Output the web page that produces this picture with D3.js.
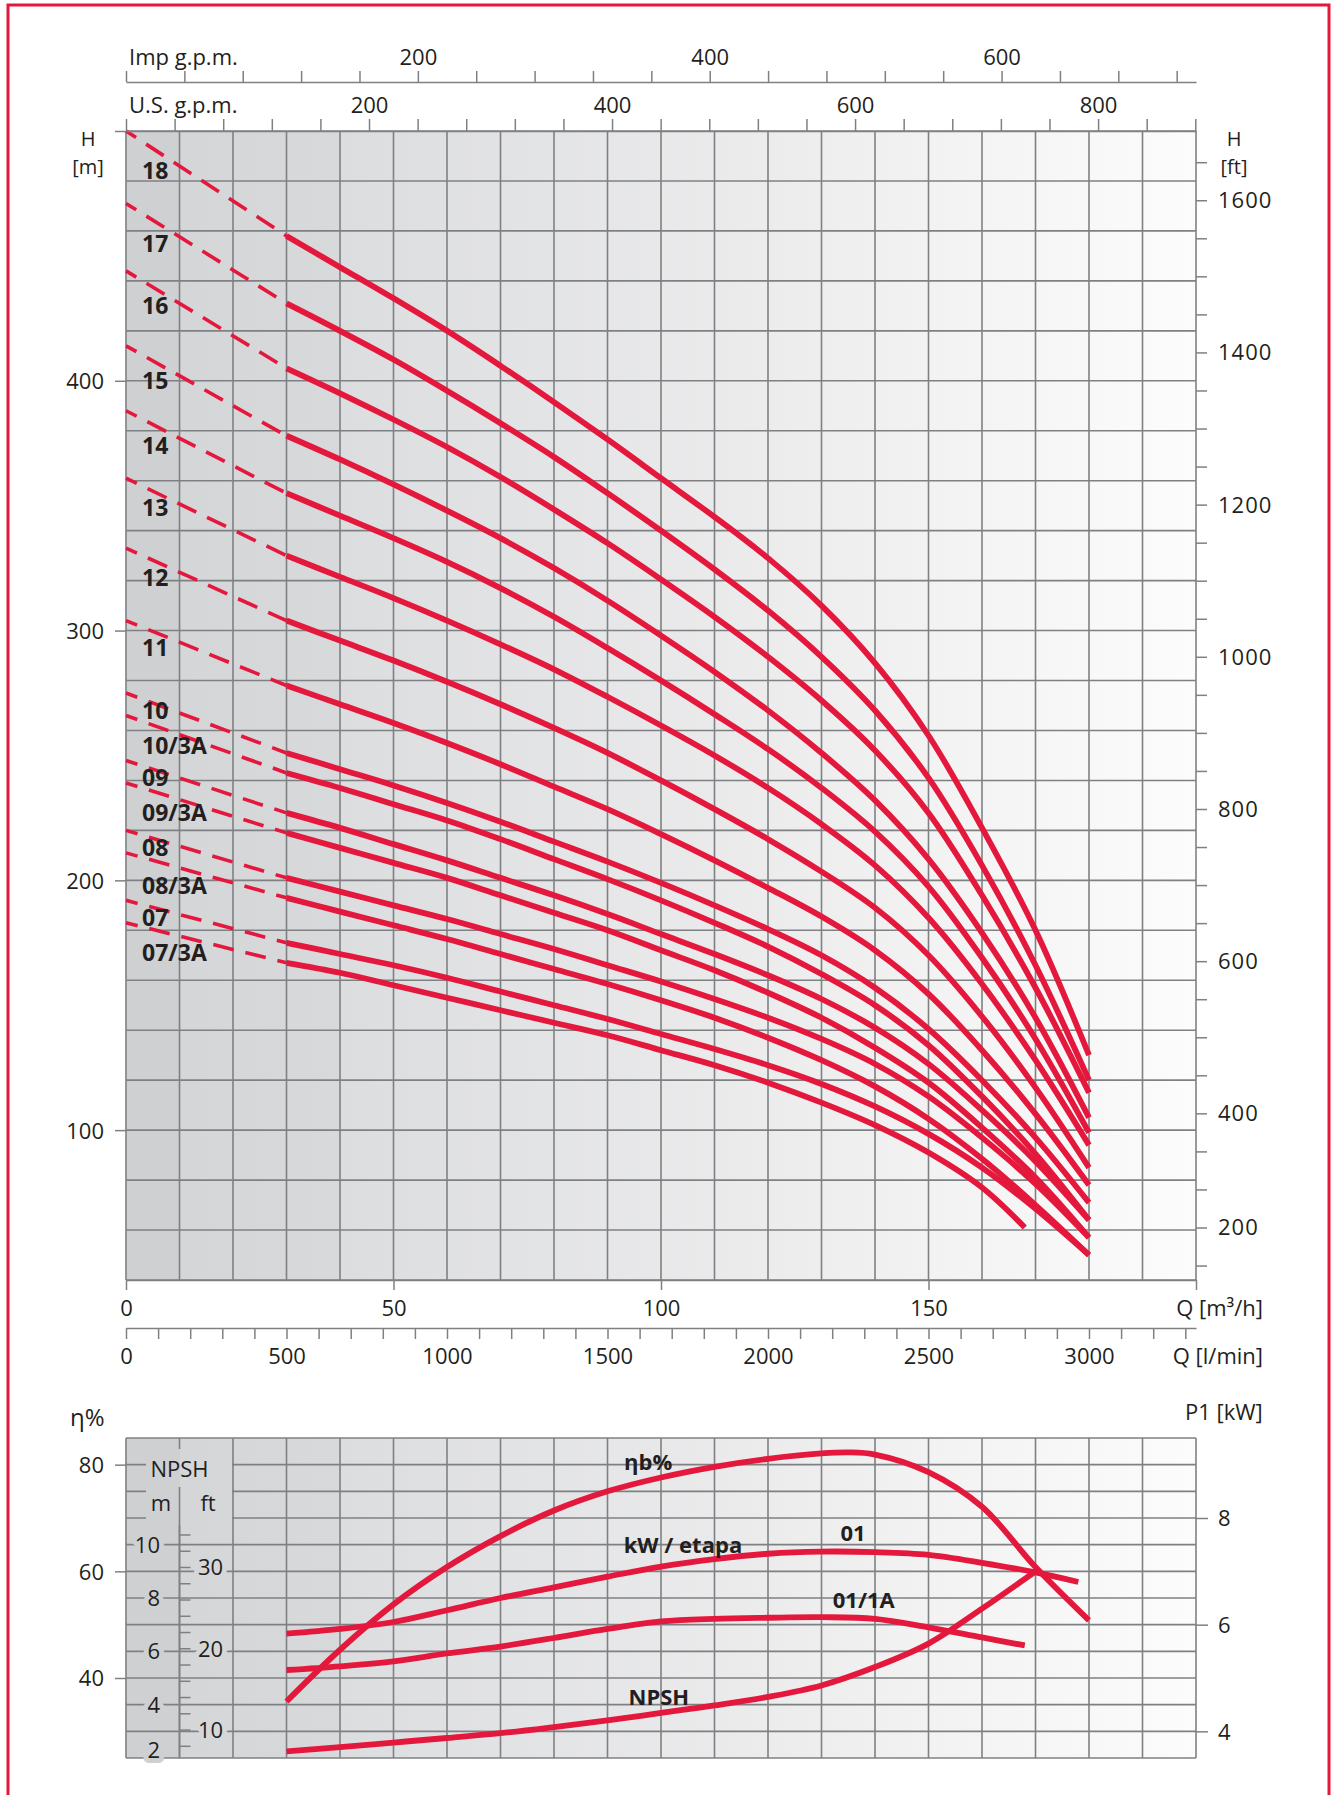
<!DOCTYPE html>
<html>
<head>
<meta charset="utf-8">
<script src="https://cdn.jsdelivr.net/npm/d3@7"></script>
<style>
  html, body { margin: 0; padding: 0; background: #fff; }
  svg { display: block; }
</style>
</head>
<body>
<svg id="chart" width="1332" height="1795"></svg>
<script>
// Pump performance chart: H-Q curves per number of stages, plus efficiency / power / NPSH panel.

const FONT = '"Open Sans", "DejaVu Sans", sans-serif';
const RED = '#e4183c';
const GRID = '#7f8083';
const INK = '#231f20';

// ---- data ----
const stageNames = ['18', '17', '16', '15', '14', '13', '12', '11', '10', '10/3A', '09', '09/3A', '08', '08/3A', '07', '07/3A'];
// head at Q = 0 (start of the dashed part), m
const headAtZero = [500, 471, 444, 414, 388, 361, 333, 304, 275, 266, 248, 239, 220, 211, 192, 183];
// head where the stage label sits (Q about 3 m3/h), m
const labelHead = [484, 455, 430, 400, 374, 349, 321, 293, 268, 254, 241, 227, 213, 198, 185, 171];

const qFlow = [30, 40, 50, 60, 70, 80, 90, 100, 110, 120, 130, 140, 150, 160, 170, 180];
const qFlowShort = [30, 40, 50, 60, 70, 80, 90, 100, 110, 120, 130, 140, 150, 160, 168];

const headCurves = [
  [458, 445.5, 433, 420, 406, 391.5, 376.5, 361, 345.5, 329, 310, 287, 258, 221, 180, 130], // 18
  [431, 420, 408.5, 396, 383, 369.5, 355, 340, 324.5, 308, 289.5, 268, 241, 206, 166, 120], // 17
  [405, 395, 384.5, 373.5, 361.5, 348.5, 335, 320.5, 305.5, 289.5, 272, 252, 227, 194, 157, 115], // 16
  [378, 368.5, 358.5, 348, 337, 325, 312, 298, 283.5, 268, 251, 232, 208.5, 179, 145, 105], // 15
  [355, 346, 337, 327.5, 317, 305.5, 293, 280, 266.5, 252.5, 237, 219.5, 197.5, 169, 136.5, 99], // 14
  [330, 321.5, 313, 304, 294.5, 284.5, 273.5, 262, 250, 237, 222.5, 206, 185, 158.5, 128, 94], // 13
  [304, 296, 288, 279.5, 270.5, 261, 251, 240, 228.5, 216.5, 203.5, 189, 170, 145.5, 117, 85], // 12
  [278, 270.5, 263, 255, 246.5, 237.5, 228.5, 218.5, 208, 197, 185.5, 172, 154.5, 132, 106.5, 78], // 11
  [251, 244.5, 238, 231, 223.5, 215.5, 207.5, 199, 190, 180.5, 170, 157, 140.5, 120, 97, 71], // 10
  [243, 237, 230.5, 224, 216.5, 208.5, 200.5, 192, 183, 173.5, 162.5, 150, 134, 113.5, 90.5, 64], // 10/3A
  [227, 221, 214.5, 208, 201, 194, 186.5, 178.5, 170.5, 162, 152.5, 141, 126.5, 108, 87.5, 64], // 09
  [219, 213, 207, 201, 194, 187, 180, 172, 164, 155, 145, 133, 119, 101, 81, 57], // 09/3A
  [201, 195.5, 190, 184.5, 178.5, 172.5, 166, 159.5, 152.5, 145, 136.5, 126.5, 113.5, 97, 78.5, 57], // 08
  [193, 187.5, 182, 176.5, 170.5, 164.5, 158.5, 152, 145, 137, 128, 117.5, 104.5, 88.5, 70, 50], // 08/3A
  [175, 170.5, 166, 161, 155.5, 150, 144.5, 138.5, 132.5, 126, 118.5, 109.5, 98.5, 85, 68.5, 50], // 07
  [167, 163, 158, 153, 148, 143, 138, 132, 126, 119, 111, 102, 91, 77, 61] // 07/3A
];

// lower panel
const effFlow = [30, 40, 50, 60, 70, 80, 90, 100, 110, 120, 130, 135, 140, 150, 160, 170, 180];
const effValues = [35.6, 45.3, 53.8, 60.8, 66.6, 71.4, 75.0, 77.6, 79.6, 81.1, 82.1, 82.3, 81.9, 78.6, 72.1, 60.8, 50.8];

const kw01Flow = [30, 40, 50, 60, 70, 80, 90, 100, 110, 120, 130, 140, 150, 160, 170, 178];
const kw01Values = [5.83, 5.92, 6.05, 6.27, 6.5, 6.7, 6.9, 7.09, 7.23, 7.33, 7.37, 7.36, 7.31, 7.16, 6.98, 6.8];

const kw1AFlow = [30, 40, 50, 60, 70, 80, 90, 100, 110, 120, 130, 140, 150, 160, 168];
const kw1AValues = [5.15, 5.22, 5.31, 5.46, 5.59, 5.75, 5.92, 6.06, 6.11, 6.13, 6.14, 6.11, 5.95, 5.76, 5.61];

const npshFlow = [30, 40, 50, 60, 70, 80, 90, 100, 110, 120, 130, 140, 150, 160, 170];
const npshValues = [2.25, 2.41, 2.58, 2.75, 2.93, 3.16, 3.41, 3.69, 3.97, 4.29, 4.72, 5.41, 6.29, 7.6, 9.0];

// axis labels on the ft side as printed (the last one sits one step high)
const ftLabels = ['1600', '1400', '1200', '1000', '800', '600', '400', '200'];
const ftLabelAt = [1600, 1400, 1200, 1000, 800, 600, 400, 250];

// ---- layout ----
const X0 = 126, X1 = 1196;
const Y0 = 131, Y1 = 1280;
const LY0 = 1438, LY1 = 1758;

const x = d3.scaleLinear().domain([0, 200]).range([X0, X1]);
const yH = d3.scaleLinear().domain([40, 500]).range([Y1, Y0]);
const yFt = d3.scaleLinear().domain([181, 1691]).range([Y1, Y0]);
const usGpm = d3.scaleLinear().domain([0, 200 * 4.4029]).range([X0, X1]);
const impGpm = d3.scaleLinear().domain([0, 200 * 3.6662]).range([X0, X1]);
const lMin = d3.scaleLinear().domain([0, 200 * 1000 / 60]).range([X0, X1]);

const yEta = d3.scaleLinear().domain([25, 85]).range([LY1, LY0]);
const yP = d3.scaleLinear().domain([3.5, 9.5]).range([LY1, LY0]);
const yNm = d3.scaleLinear().domain([2, 14]).range([LY1, LY0]);
const yNft = v => yNm(v * 0.3048);

const svg = d3.select('#chart').attr('font-family', FONT);

// background gradient
const grad = svg.append('defs').append('linearGradient')
  .attr('id', 'bg').attr('gradientUnits', 'userSpaceOnUse')
  .attr('x1', X0).attr('x2', X1).attr('y1', 0).attr('y2', 0);
[[0, '#cfd0d2'], [0.05, '#cfd0d2'], [0.05, '#d5d6d8'], [0.2, '#d8d9db'],
 [0.2, '#dcdddf'], [0.6, '#ececed'], [1, '#fcfcfc']]
  .forEach(([o, c]) => grad.append('stop').attr('offset', o).attr('stop-color', c));

// red frame
svg.append('rect').attr('x', 8).attr('y', 5).attr('width', 1321).attr('height', 1830)
  .attr('fill', 'none').attr('stroke', RED).attr('stroke-width', 3);

function panel(top, bottom, hLines) {
  const g = svg.append('g');
  g.append('rect').attr('x', X0).attr('y', top).attr('width', X1 - X0).attr('height', bottom - top)
    .attr('fill', 'url(#bg)');
  g.selectAll('line.v').data(d3.range(0, 201, 10)).join('line')
    .attr('x1', d => x(d)).attr('x2', d => x(d)).attr('y1', top).attr('y2', bottom)
    .attr('stroke', GRID).attr('stroke-width', 1.6);
  g.selectAll('line.h').data(hLines).join('line')
    .attr('x1', X0).attr('x2', X1).attr('y1', d => d).attr('y2', d => d)
    .attr('stroke', GRID).attr('stroke-width', 1.6);
  return g;
}

function styleAxis(g, size) {
  g.attr('font-family', FONT).attr('font-size', size);
  g.selectAll('line').attr('stroke', GRID).attr('stroke-width', 1.5);
  g.select('.domain').attr('stroke', GRID).attr('stroke-width', 1.5);
  g.selectAll('text').attr('fill', INK);
}

function label(txt, px, py, opts = {}) {
  return svg.append('text').attr('x', px).attr('y', py)
    .attr('font-size', opts.size || 22)
    .attr('font-weight', opts.bold ? 700 : 400)
    .attr('text-anchor', opts.anchor || 'start')
    .attr('fill', INK)
    .attr('letter-spacing', opts.ls || 0)
    .text(txt);
}

// ---- main H-Q panel ----
panel(Y0, Y1, d3.range(40, 501, 20).map(yH));

const curveLine = d3.line().x(d => x(d[0])).y(d => yH(d[1])).curve(d3.curveCatmullRom.alpha(0.5));
const gc = svg.append('g');
stageNames.forEach((name, i) => {
  const flows = i === stageNames.length - 1 ? qFlowShort : qFlow;
  const pts = flows.map((q, j) => [q, headCurves[i][j]]);
  gc.append('path')
    .attr('d', curveLine([[0, headAtZero[i]], pts[0]]))
    .attr('fill', 'none').attr('stroke', RED).attr('stroke-width', 3.6)
    .attr('stroke-dasharray', '21,12').attr('stroke-dashoffset', 9);
  gc.append('path')
    .attr('d', curveLine(pts))
    .attr('fill', 'none').attr('stroke', RED).attr('stroke-width', 5.8);
  label(name, x(3), yH(labelHead[i]), { bold: true, size: 23 }).attr('dy', '0.36em');
});

// left H [m] axis
const axL = svg.append('g').attr('transform', `translate(${X0},0)`)
  .call(d3.axisLeft(yH).tickValues([100, 200, 300, 400, 500]).tickSize(11).tickPadding(11)
    .tickFormat(d => d === 500 ? '' : d));
axL.select('.domain').remove();
styleAxis(axL, 22);
axL.selectAll('text').attr('dy', '0.36em');

// right H [ft] axis
const axR = svg.append('g').attr('transform', `translate(${X1},0)`)
  .call(d3.axisRight(yFt).tickValues(d3.range(200, 1651, 50)).tickSize(11).tickFormat(''));
axR.select('.domain').remove();
styleAxis(axR, 22);
ftLabels.forEach((t, i) => label(t, X1 + 22, yFt(ftLabelAt[i]), { ls: 1 }).attr('dy', '0.36em'));

label('H', 88, 139, { anchor: 'middle', size: 20 }).attr('dy', '0.36em');
label('[m]', 88, 167, { anchor: 'middle', size: 20 }).attr('dy', '0.36em');
label('H', 1234, 139, { anchor: 'middle', size: 20 }).attr('dy', '0.36em');
label('[ft]', 1234, 167, { anchor: 'middle', size: 20 }).attr('dy', '0.36em');

// top axes
const axImp = svg.append('g').attr('transform', 'translate(0,82)')
  .call(d3.axisTop(impGpm).tickValues(d3.range(0, 721, 40)).tickSize(11).tickSizeOuter(0).tickPadding(6)
    .tickFormat(d => d > 0 && d % 200 === 0 ? d : ''));
styleAxis(axImp, 22);
label('Imp g.p.m.', 129, 65);

const axUs = svg.append('g').attr('transform', `translate(0,${Y0})`)
  .call(d3.axisTop(usGpm).tickValues(d3.range(0, 881, 40)).tickSize(12).tickSizeOuter(0).tickPadding(6)
    .tickFormat(d => d > 0 && d % 200 === 0 ? d : ''));
styleAxis(axUs, 22);
label('U.S. g.p.m.', 129, 113);

// bottom axes
const axQ = svg.append('g').attr('transform', `translate(0,${Y1})`)
  .call(d3.axisBottom(x).tickValues([0, 50, 100, 150, 200]).tickSize(10).tickSizeOuter(0).tickPadding(10)
    .tickFormat(d => d < 200 ? d : ''));
styleAxis(axQ, 22);
label('Q [m³/h]', 1263, 1316, { anchor: 'end' });

const axL2 = svg.append('g').attr('transform', 'translate(0,1328)')
  .call(d3.axisBottom(lMin).tickValues(d3.range(0, 3301, 100)).tickSize(11).tickSizeOuter(0).tickPadding(9)
    .tickFormat(d => d % 500 === 0 ? d : ''));
styleAxis(axL2, 22);
label('Q [l/min]', 1263, 1364, { anchor: 'end' });

// ---- lower panel: efficiency, power, NPSH ----
panel(LY0, LY1, d3.range(25, 86, 5).map(yEta));

// NPSH scale inside the left columns: clear the header area, redraw the ft axis line
function halo(sel) {
  return sel.attr('stroke', 'url(#bg)').attr('stroke-width', 10).attr('paint-order', 'stroke')
    .attr('stroke-linejoin', 'round');
}
const gn = svg.append('g');
gn.append('rect').attr('x', X0 + 20).attr('y', LY0 + 11).attr('width', x(20) - X0 - 21).attr('height', 76)
  .attr('fill', 'url(#bg)');
gn.append('line').attr('x1', x(10)).attr('x2', x(10)).attr('y1', LY0 + 49).attr('y2', LY1)
  .attr('stroke', GRID).attr('stroke-width', 1.6);
gn.selectAll('line.ft').data(d3.range(8, 35, 2)).join('line')
  .attr('x1', x(10)).attr('x2', x(10) + 11).attr('y1', d => yNft(d)).attr('y2', d => yNft(d))
  .attr('stroke', GRID).attr('stroke-width', 1.5);
halo(label('NPSH', x(10), 1477, { anchor: 'middle' }));
halo(label('m', 161, 1511, { anchor: 'middle' }));
halo(label('ft', 208, 1511, { anchor: 'middle' }));
[10, 8, 6, 4, 2].forEach(v => {
  halo(label(v, 160, yNm(v), { anchor: 'end' })).attr('dy', v === 2 ? '-0.02em' : '0.36em');
});
[30, 20, 10].forEach(v => {
  halo(label(v, 198, yNft(v))).attr('dy', '0.36em');
});

const lowerLine = ys => d3.line().x(d => x(d[0])).y(d => ys(d[1])).curve(d3.curveCatmullRom.alpha(0.5));
const gl = svg.append('g').attr('fill', 'none').attr('stroke', RED).attr('stroke-width', 5.8);
gl.append('path').attr('d', lowerLine(yEta)(effFlow.map((q, i) => [q, effValues[i]])));
gl.append('path').attr('d', lowerLine(yP)(kw01Flow.map((q, i) => [q, kw01Values[i]])));
gl.append('path').attr('d', lowerLine(yP)(kw1AFlow.map((q, i) => [q, kw1AValues[i]])));
gl.append('path').attr('d', lowerLine(yNm)(npshFlow.map((q, i) => [q, npshValues[i]])));

label('ηb%', x(97.6), yEta(80.4), { bold: true, size: 22, anchor: 'middle' }).attr('dy', '0.36em');
label('kW / etapa', x(104.1), yP(7.49), { bold: true, size: 22, anchor: 'middle' }).attr('dy', '0.36em');
label('01', x(135.9), yP(7.72), { bold: true, size: 22, anchor: 'middle' }).attr('dy', '0.36em');
label('01/1A', x(137.9), yP(6.46), { bold: true, size: 22, anchor: 'middle' }).attr('dy', '0.36em');
label('NPSH', x(99.6), yNm(4.3), { bold: true, size: 22, anchor: 'middle' }).attr('dy', '0.36em');

const axEta = svg.append('g').attr('transform', `translate(${X0},0)`)
  .call(d3.axisLeft(yEta).tickValues([40, 60, 80]).tickSize(11).tickPadding(11));
axEta.select('.domain').remove();
styleAxis(axEta, 22);
axEta.selectAll('text').attr('dy', '0.36em');

const axP = svg.append('g').attr('transform', `translate(${X1},0)`)
  .call(d3.axisRight(yP).tickValues([4, 6, 8]).tickSize(12).tickPadding(10).tickFormat(d3.format('d')));
axP.select('.domain').remove();
styleAxis(axP, 22);
axP.selectAll('text').attr('dy', '0.36em');

label('η%', 70, 1426, { size: 24 });
label('P1 [kW]', 1185, 1420);
</script>
</body>
</html>
